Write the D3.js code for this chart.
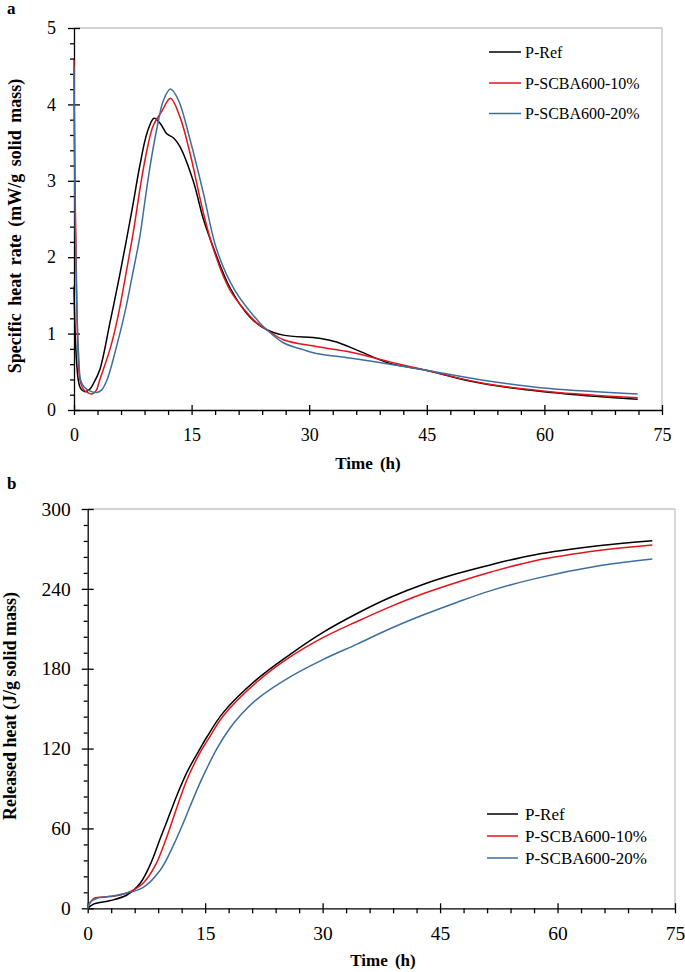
<!DOCTYPE html>
<html><head><meta charset="utf-8">
<script src="https://cdn.jsdelivr.net/npm/d3@7"></script>
<style>
html,body{margin:0;padding:0;background:#fff;}
svg{display:block;}
svg text{font-family:"Liberation Serif","Times New Roman",Times,"DejaVu Serif",serif !important;fill:#000;}
</style></head>
<body>
<svg id="chart" width="685" height="972"></svg>
<script>
// ---------- data ----------
const seriesNames = ["P-Ref", "P-SCBA600-10%", "P-SCBA600-20%"];
const seriesColors = ["#000000", "#e3141b", "#3d6e9e"];

// Panel a: specific heat rate (mW/g solid mass) vs time (h)
const rateRefT = [0,0.15,0.35,0.55,0.85,1.4,2.0,2.5,3.3,4.6,5.8,7.4,8.4,9.3,10.2,11.0,11.8,12.7,13.5,15.2,16.5,17.8,19.9,22.4,24.6,26.7,31.3,33.5,36.4,40.3,44.9,50.0,56.4,62.8,71.9];
const rateRefV = [1.62,1.0,0.6,0.39,0.28,0.24,0.27,0.35,0.53,1.15,1.75,2.62,3.2,3.62,3.82,3.75,3.62,3.56,3.45,3.0,2.5,2.12,1.6,1.22,1.05,0.98,0.94,0.89,0.77,0.61,0.52,0.39,0.28,0.21,0.14];

const rate10T = [0,0.1,0.3,0.5,0.77,1.2,1.7,2.25,2.8,3.3,4.6,5.6,6.6,7.6,8.5,9.3,10.1,11.2,12.3,13.5,14.8,16.5,17.8,19.9,23.3,24.6,26.7,30.9,35.2,40.3,44.9,52.2,60.7,71.9];
const rate10V = [4.58,3.2,1.8,0.8,0.39,0.27,0.23,0.21,0.25,0.40,0.80,1.22,1.77,2.35,2.95,3.4,3.72,3.91,4.08,3.84,3.36,2.58,2.1,1.57,1.14,1.05,0.92,0.83,0.76,0.63,0.52,0.35,0.24,0.16];

const rate20T = [0,0.1,0.3,0.6,0.85,1.3,2.0,2.9,3.5,4.2,5.4,6.5,7.4,8.4,9.0,9.7,10.7,11.4,12.3,13.3,14.8,16.5,18.2,20.5,23.7,24.6,26.7,29.2,30.9,35.2,40.3,44.9,52.2,60.7,71.9];
const rate20V = [4.5,3.0,1.6,0.7,0.39,0.30,0.25,0.23,0.26,0.39,0.82,1.28,1.74,2.27,2.7,3.19,3.75,4.05,4.20,4.06,3.54,2.84,2.1,1.57,1.14,1.05,0.88,0.79,0.74,0.68,0.60,0.52,0.39,0.28,0.21];

// Panel b: released heat (J/g solid mass) vs time (h)
const heatRefT = [0,0.8,2.9,5.0,6.7,8.0,9.3,10.1,11.4,12.7,14.4,15.2,17.3,21.6,25.9,30.1,34.4,38.6,42.9,47.2,51.4,57.0,65.5,72.1];
const heatRefV = [0,3.3,5.8,10,18.8,33,53,65,85,102.5,120.5,128.5,147,172,191,207.5,221.5,233.5,243.5,251.5,258,265.5,272.5,276.2];

const heat10T = [0,0.2,0.8,2.9,5.0,7.1,8.7,10.0,11.4,12.7,14.4,15.5,17.3,21.6,25.9,30.1,34.4,38.6,42.9,47.2,51.4,57.0,65.5,72.1];
const heat10V = [0,3,7.5,8.8,11.5,19,33,52,76,97,117.5,128,144.5,170,189,203.5,215.5,226.5,236.5,245,252.5,261,269,273];

const heat20T = [0,0.3,1.2,2.9,5.0,7.1,9.3,11.0,12.2,13.1,14.4,15.2,16.5,18.0,19.5,21.6,25.9,30.1,34.4,38.6,42.9,47.2,51.4,57.0,65.5,72.1];
const heat20V = [0,4.5,7.5,9,11.5,15.8,29,48,64,77,95,105,120,134,145,157,174,187,198.5,210,220.5,230,238.5,247.5,257.5,262.4];

const xTicks = [0,15,30,45,60,75];
const rateTicks = [0,1,2,3,4,5];
const heatTicks = [0,60,120,180,240,300];

// ---------- drawing ----------
const svg = d3.select("#chart");
const FONT = '"Liberation Serif","Times New Roman",Times,"DejaVu Serif",serif';
const zip = (t, v) => t.map((d, i) => ({t: d, v: v[i]}));

function panel(cfg) {
  const g = svg.append("g").attr("font-family", FONT);
  const x = d3.scaleLinear().domain([0, 75]).range([cfg.left, cfg.right]);
  const y = d3.scaleLinear().domain(cfg.yDomain).range([cfg.bottom, cfg.top]);

  g.append("line").attr("x1", cfg.left).attr("x2", cfg.right).attr("y1", cfg.top).attr("y2", cfg.top)
    .attr("stroke", "#c4c4c4").attr("stroke-width", 1.3);
  g.append("line").attr("x1", cfg.right).attr("x2", cfg.right).attr("y1", cfg.top).attr("y2", cfg.bottom)
    .attr("stroke", "#c4c4c4").attr("stroke-width", 1.3);

  const xMinor = d3.range(0, 75.01, 3).filter(d => d % 15 !== 0);
  const yMinor = d3.range(cfg.yDomain[0], cfg.yDomain[1] + 1e-9, cfg.yMinorStep)
    .filter(d => Math.abs(d / cfg.yMajorStep - Math.round(d / cfg.yMajorStep)) > 1e-6);

  g.append("g").attr("transform", `translate(0,${cfg.bottom})`)
    .call(d3.axisBottom(x).tickValues(xMinor).tickSize(5).tickFormat(""))
    .call(a => a.select(".domain").remove());
  g.append("g").attr("transform", `translate(${cfg.left},0)`)
    .call(d3.axisLeft(y).tickValues(yMinor).tickSize(4).tickFormat(""))
    .call(a => a.select(".domain").remove());
  g.append("g").attr("transform", `translate(0,${cfg.bottom})`)
    .call(d3.axisTop(x).tickValues(xTicks).tickSize(5).tickFormat(""))
    .call(a => a.select(".domain").remove());
  g.append("g").attr("transform", `translate(${cfg.left},0)`)
    .call(d3.axisRight(y).tickValues(cfg.yTicks).tickSize(6).tickFormat(""))
    .call(a => a.select(".domain").remove());

  const xa = g.append("g").attr("transform", `translate(0,${cfg.bottom})`)
    .call(d3.axisBottom(x).tickValues(xTicks).tickFormat(d3.format("d")).tickSize(5).tickSizeOuter(0).tickPadding(cfg.xPad));
  const ya = g.append("g").attr("transform", `translate(${cfg.left},0)`)
    .call(d3.axisLeft(y).tickValues(cfg.yTicks).tickFormat(d3.format("d")).tickSize(6).tickSizeOuter(0).tickPadding(cfg.yPad));
  [xa, ya].forEach(a => {
    a.attr("font-family", FONT).attr("font-size", cfg.tickFont);
    a.selectAll("line,path").attr("stroke", "#000").attr("stroke-width", 1.3);
  });
  g.selectAll(".tick line").attr("stroke", "#000").attr("stroke-width", 1.3);

  const line = d3.line().x(d => x(d.t)).y(d => y(d.v)).curve(d3.curveCatmullRom.alpha(0.5));
  cfg.series.forEach((s, i) => {
    g.append("path").datum(s).attr("d", line).attr("fill", "none")
      .attr("stroke", seriesColors[i]).attr("stroke-width", 1.5);
  });

  g.append("text").attr("x", cfg.xTitleX).attr("y", cfg.xTitleY).attr("text-anchor", "middle")
    .attr("font-weight", "bold").attr("font-size", 17).style("word-spacing", "3px").text("Time (h)");
  g.append("text").attr("transform", `translate(${cfg.yTitleX},${cfg.yTitleY}) rotate(-90)`)
    .attr("text-anchor", "middle").attr("font-weight", "bold").attr("font-size", cfg.yTitleFont)
    .style("word-spacing", cfg.yTitleWS + "px").text(cfg.yTitle);
  g.append("text").attr("x", 7).attr("y", cfg.letterY).attr("font-weight", "bold")
    .attr("font-size", 17).text(cfg.letter);

  seriesNames.forEach((n, i) => {
    const ly = cfg.legY[i];
    g.append("line").attr("x1", cfg.legX1).attr("x2", cfg.legX2).attr("y1", ly).attr("y2", ly)
      .attr("stroke", seriesColors[i]).attr("stroke-width", 1.5);
    g.append("text").attr("x", cfg.legTextX).attr("y", ly).attr("dy", "0.35em")
      .attr("font-size", cfg.legFont).text(n);
  });
}

panel({
  left: 74, right: 662, top: 28, bottom: 410,
  yDomain: [0, 5], yTicks: rateTicks, yMajorStep: 1, yMinorStep: 0.2,
  xPad: 13, yPad: 12, tickFont: 18,
  series: [zip(rateRefT, rateRefV), zip(rate10T, rate10V), zip(rate20T, rate20V)],
  xTitleX: 368, xTitleY: 469,
  yTitle: "Specific heat rate (mW/g solid mass)", yTitleX: 21, yTitleY: 226, yTitleFont: 18, yTitleWS: 3,
  letter: "a", letterY: 14,
  legY: [52, 83, 113.5], legX1: 489, legX2: 521, legTextX: 525, legFont: 16
});

panel({
  left: 87.7, right: 675, top: 509, bottom: 908.3,
  yDomain: [0, 300], yTicks: heatTicks, yMajorStep: 60, yMinorStep: 12,
  xPad: 12.5, yPad: 11, tickFont: 19.5,
  series: [zip(heatRefT, heatRefV), zip(heat10T, heat10V), zip(heat20T, heat20V)],
  xTitleX: 383, xTitleY: 966,
  yTitle: "Released heat (J/g solid mass)", yTitleX: 16, yTitleY: 706, yTitleFont: 18, yTitleWS: 0,
  letter: "b", letterY: 489,
  legY: [814, 836, 858], legX1: 487, legX2: 518, legTextX: 525, legFont: 17
});
</script>
</body></html>
